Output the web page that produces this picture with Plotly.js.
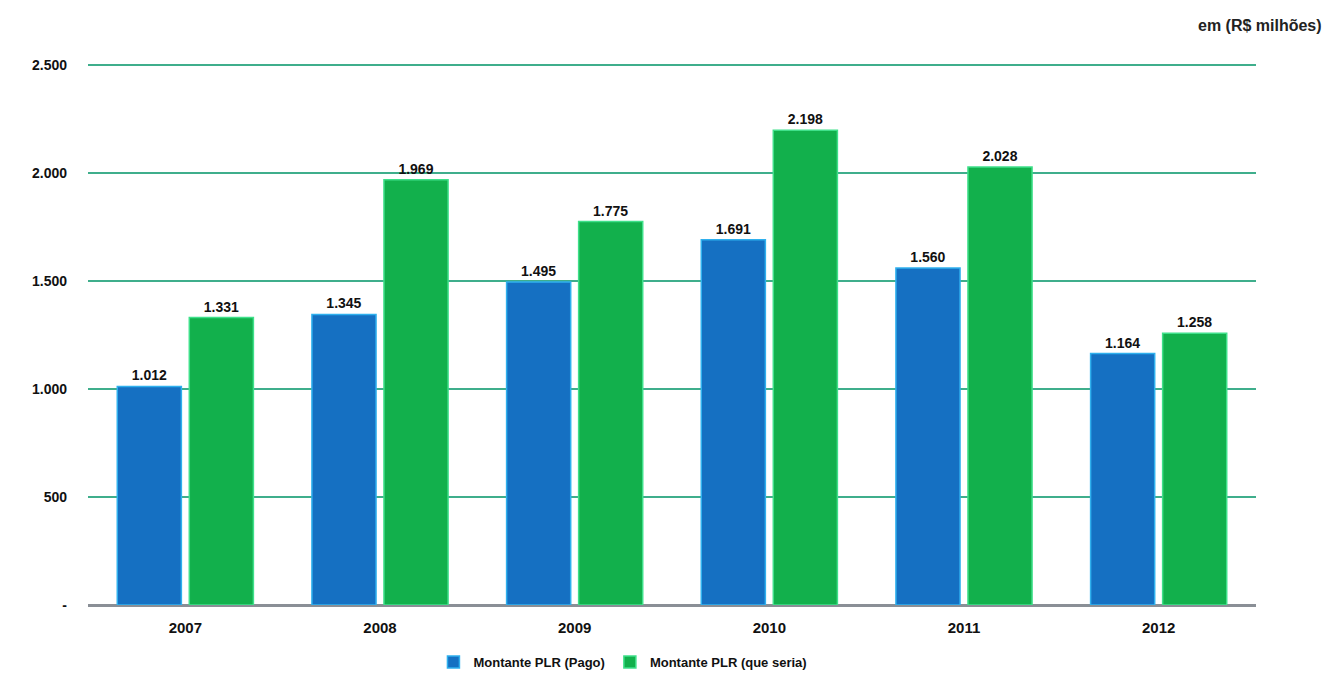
<!DOCTYPE html>
<html>
<head>
<meta charset="utf-8">
<script src="https://cdn.plot.ly/plotly-3.0.1.min.js"></script>
<style>html,body{margin:0;padding:0;background:#fff;}#chart{width:1328px;height:677px;}</style>
</head>
<body>
<div id="chart"></div>
<script>
const years = ["2007", "2008", "2009", "2010", "2011", "2012"];
const pago = [1012, 1345, 1495, 1691, 1560, 1164];
const seria = [1331, 1969, 1775, 2198, 2028, 1258];
const pagoLabels = ["1.012", "1.345", "1.495", "1.691", "1.560", "1.164"];
const seriaLabels = ["1.331", "1.969", "1.775", "2.198", "2.028", "1.258"];
const yTickVals = [0, 500, 1000, 1500, 2000, 2500];
const yTickText = ["-", "500", "1.000", "1.500", "2.000", "2.500"];

const font = "Liberation Sans, Arial, sans-serif";

const traces = [
  {
    type: "bar", name: "Montante PLR (Pago)", x: years, y: pago,
    text: pagoLabels, textposition: "outside", cliponaxis: false,
    textfont: {family: font, size: 14, color: "#111", weight: "bold"},
    marker: {color: "#1570c2", line: {color: "#2fb0ee", width: 1.5}},
    hoverinfo: "x+y"
  },
  {
    type: "bar", name: "Montante PLR (que seria)", x: years, y: seria,
    text: seriaLabels, textposition: "outside", cliponaxis: false,
    textfont: {family: font, size: 14, color: "#111", weight: "bold"},
    marker: {color: "#12b04c", line: {color: "#3fe08a", width: 1.5}},
    hoverinfo: "x+y"
  }
];

const layout = {
  width: 1328, height: 677,
  margin: {l: 88, r: 72, t: 61, b: 72, autoexpand: false},
  paper_bgcolor: "#ffffff", plot_bgcolor: "#ffffff",
  font: {family: font, color: "#111"},
  barmode: "group", bargap: 0.26, bargroupgap: 0.11,
  xaxis: {
    type: "category", showgrid: false, zeroline: false, showline: false,
    ticks: "", tickfont: {family: font, size: 15, color: "#111", weight: "bold"},
    ticklabelstandoff: 12
  },
  yaxis: {
    range: [0, 2518.5], tickvals: yTickVals, ticktext: yTickText,
    showgrid: true, gridcolor: "#3fae8c", gridwidth: 1.5,
    zeroline: true, zerolinecolor: "#8a8f96", zerolinewidth: 3,
    showline: false, ticks: "",
    tickfont: {family: font, size: 14, color: "#111", weight: "bold"},
    ticklabelstandoff: 20
  },
  showlegend: true,
  legend: {
    orientation: "h", x: 0.458, xanchor: "center", y: -0.105, yanchor: "middle",
    font: {family: font, size: 13, color: "#111", weight: "bold"},
    itemwidth: 30, traceorder: "normal"
  },
  annotations: [
    {
      xref: "paper", yref: "paper", x: 1.058, y: 1.065, xanchor: "right", yanchor: "middle",
      text: "em (R$ milhões)", showarrow: false,
      font: {family: font, size: 16, color: "#222", weight: "bold"}
    }
  ]
};

Plotly.newPlot("chart", traces, layout, {displayModeBar: false, staticPlot: true});
</script>
</body>
</html>
